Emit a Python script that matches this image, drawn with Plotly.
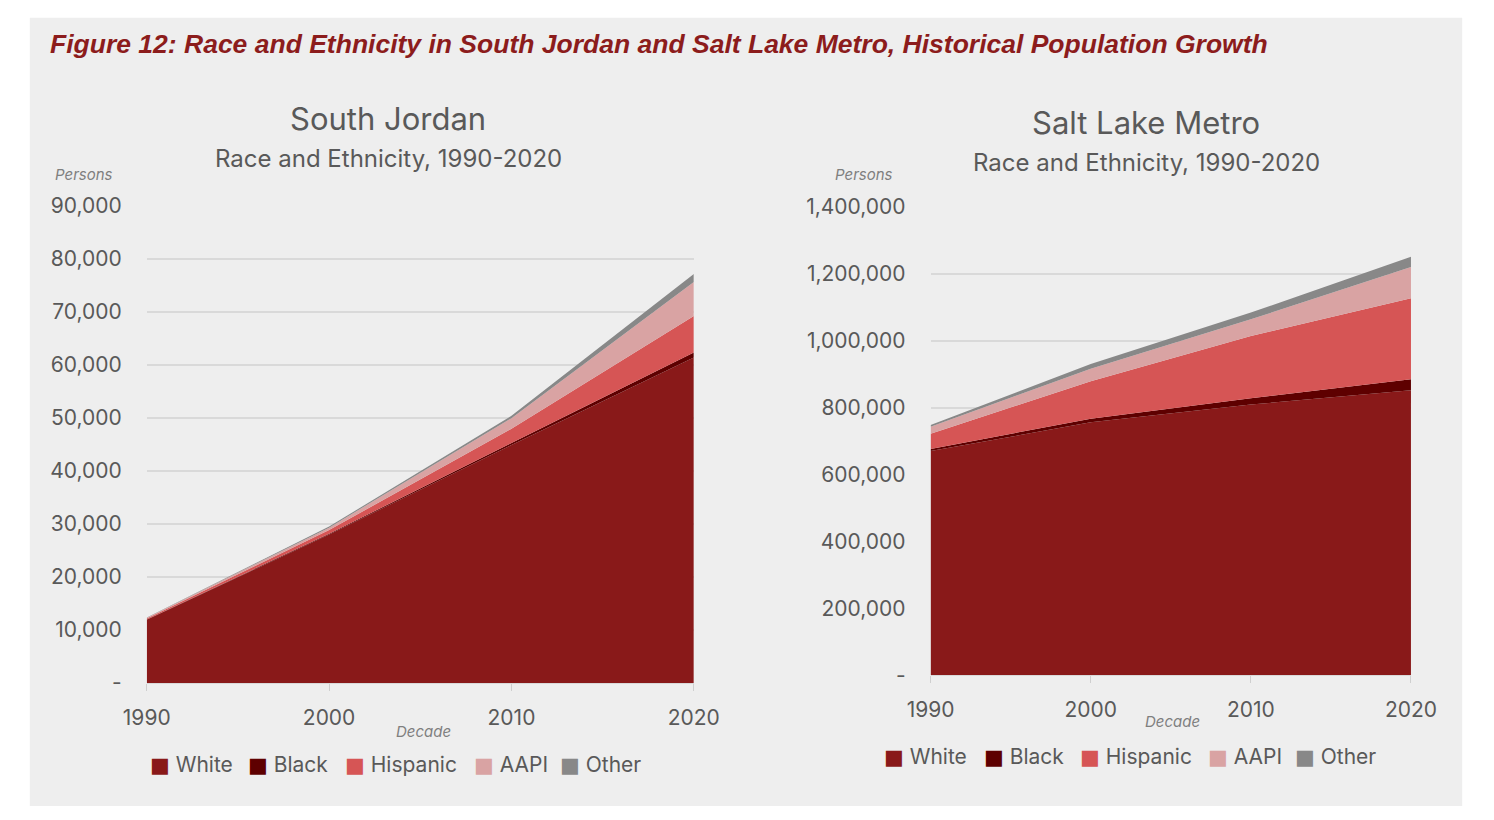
import plotly.graph_objects as go

W, H = 1494, 820
def px(x): return x / W
def py(y): return 1 - y / H

# ---------------- data ----------------
decades = [1990, 2000, 2010, 2020]
groups = ["White", "Black", "Hispanic", "AAPI", "Other"]
colors = ["#891919", "#5e0000", "#d65555", "#d9a3a3", "#888888"]

sj_white = [11900, 28000, 44900, 61400]
sj_black = [60, 150, 350, 950]
sj_hispanic = [200, 700, 2700, 6900]
sj_aapi = [150, 450, 2000, 6400]
sj_other = [50, 200, 450, 1500]

sl_white = [670000, 756000, 809000, 852000]
sl_black = [6000, 11000, 19000, 33000]
sl_hispanic = [46000, 112000, 186000, 242000]
sl_aapi = [21000, 37000, 50000, 93000]
sl_other = [5000, 14000, 20000, 31000]

sj_yticks = [0, 10000, 20000, 30000, 40000, 50000, 60000, 70000, 80000, 90000]
sl_yticks = [0, 200000, 400000, 600000, 800000, 1000000, 1200000, 1400000]

def fmt(v):
    return "-" if v == 0 else f"{v:,}"

sj_series = [sj_white, sj_black, sj_hispanic, sj_aapi, sj_other]
sl_series = [sl_white, sl_black, sl_hispanic, sl_aapi, sl_other]

fig = go.Figure()
for name, col, vals in zip(groups, colors, sj_series):
    fig.add_trace(go.Scatter(x=decades, y=vals, name=name, stackgroup="sj", mode="lines",
                             line=dict(width=0, color=col), fillcolor=col,
                             xaxis="x", yaxis="y", showlegend=False, hoverinfo="skip"))
for name, col, vals in zip(groups, colors, sl_series):
    fig.add_trace(go.Scatter(x=decades, y=vals, name=name, stackgroup="sl", mode="lines",
                             line=dict(width=0, color=col), fillcolor=col,
                             xaxis="x2", yaxis="y2", showlegend=False, hoverinfo="skip"))

FONT = "Inter, 'Open Sans', Arial, sans-serif"
tick_font = dict(family=FONT, size=21, color="#595959")
grid = "#d9d9d9"

common_x = dict(range=[1990, 2020], tickvals=decades, ticks="outside", ticklen=7,
                tickcolor="#cfcfcf", showline=True, linecolor="#d9d9d9", linewidth=1,
                showgrid=False, zeroline=False, tickfont=tick_font, ticklabelstandoff=9)

fig.update_layout(
    autosize=True,
    margin=dict(l=0, r=0, t=0, b=0),
    paper_bgcolor="white", plot_bgcolor="rgba(0,0,0,0)",
    xaxis=dict(domain=[px(127), px(693)], anchor="y", **common_x),
    yaxis=dict(domain=[py(691), py(199)], anchor="x", range=[0, 90000],
               tickvals=sj_yticks, ticktext=[fmt(v) for v in sj_yticks],
               showgrid=True, gridcolor=grid, gridwidth=1.5, zeroline=False,
               tickfont=tick_font, ticks="", ticklabelstandoff=24),
    xaxis2=dict(domain=[px(938), px(1435)], anchor="y2", **common_x),
    yaxis2=dict(domain=[py(683), py(200)], anchor="x2", range=[0, 1400000],
                tickvals=sl_yticks, ticktext=[fmt(v) for v in sl_yticks],
                showgrid=True, gridcolor=grid, gridwidth=1.5, zeroline=False,
                tickfont=tick_font, ticks="", ticklabelstandoff=24),
)

fig.add_shape(type="rect", xref="paper", yref="paper", x0=px(6), x1=px(1488),
              y0=py(818), y1=py(5), fillcolor="#eeeeee", line=dict(width=0), layer="below")

def ann(text, x, y, size, color="#595959", xanchor="center", italic=False, family=FONT, bold=False):
    if italic:
        text = f"<i>{text}</i>"
    if bold:
        text = f"<b>{text}</b>"
    fig.add_annotation(text=text, x=px(x), y=py(y), xref="paper", yref="paper",
                       xanchor=xanchor, yanchor="middle", showarrow=False,
                       font=dict(family=family, size=size, color=color))

ann("Figure 12: Race and Ethnicity in South Jordan and Salt Lake Metro, Historical Population Growth",
    25, 32, 26.5, color="#8c1c1c", xanchor="left", italic=True, bold=True,
    family="'Liberation Sans Narrow', 'Arial Narrow', Arial, sans-serif")

ann("South Jordan", 377, 109, 31)
ann("Race and Ethnicity, 1990-2020", 377, 150, 24)
ann("Salt Lake Metro", 1161, 113, 31)
ann("Race and Ethnicity, 1990-2020", 1161, 154, 24)

ann("Persons", 62, 167, 15, color="#7f7f7f", italic=True)
ann("Persons", 869, 167, 15, color="#7f7f7f", italic=True)
ann("Decade", 413, 741, 15, color="#7f7f7f", italic=True)
ann("Decade", 1188, 731, 15, color="#7f7f7f", italic=True)

# legends
sj_leg_x = [128, 230, 330, 463, 553]
sl_leg_x = [888, 991, 1090, 1223, 1313]
for name, col, x in zip(groups, colors, sj_leg_x):
    ann(f"<span style='color:{col};font-family:DejaVu Sans'>■</span> {name}", x, 775, 21, xanchor="left")
for name, col, x in zip(groups, colors, sl_leg_x):
    ann(f"<span style='color:{col};font-family:DejaVu Sans'>■</span> {name}", x, 767, 21, xanchor="left")

fig.write_html("out.html", default_width="100vw", default_height="100vh",
               config={"displayModeBar": False, "responsive": True},
               post_script="document.body.style.margin='0';document.documentElement.style.overflow='hidden';")
